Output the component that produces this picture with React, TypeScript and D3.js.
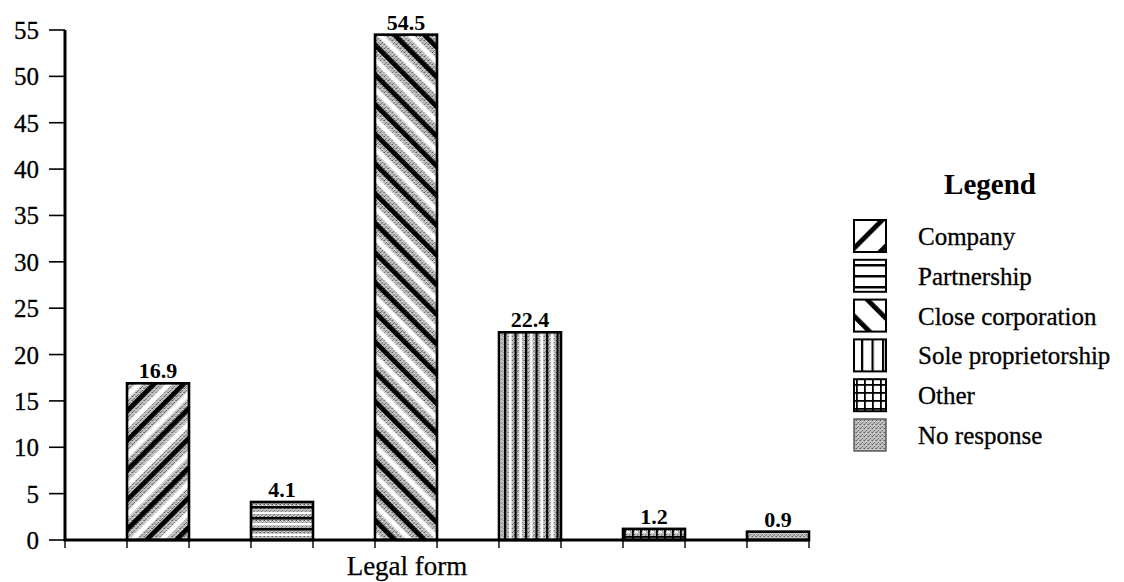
import React from "react";
import * as d3 from "d3";

// Share of respondents by legal form (%)
const categories = [
  "Company",
  "Partnership",
  "Close corporation",
  "Sole proprietorship",
  "Other",
  "No response",
];
const shares = [16.9, 4.1, 54.5, 22.4, 1.2, 0.9];
const yTicks = [0, 5, 10, 15, 20, 25, 30, 35, 40, 45, 50, 55];
const xAxisTitle = "Legal form";
const legendTitle = "Legend";

// Hatch style for each category
const hatches = ["fwd", "horiz", "back", "vert", "grid", "none"];

const W = 1124;
const H = 582;
const serif = "Liberation Serif, Times New Roman, serif";
const textStyle = { fontFamily: serif };

const x = d3.scaleBand<string>().domain(categories).range([65, 809]).padding(0);
const y = d3.scaleLinear().domain([0, 55]).range([540, 30]);

function InkPattern({ id, kind, withShine }: { id: string; kind: string; withShine: boolean }) {
  if (kind === "fwd" || kind === "back") {
    return (
      <pattern
        id={id}
        patternUnits="userSpaceOnUse"
        width={21}
        height={21}
        patternTransform={`rotate(${kind === "fwd" ? 45 : -45})`}
      >
        {withShine && <rect x={10.5} y={0} width={5} height={21} fill="#ffffff" />}
        <rect x={0} y={0} width={4.8} height={21} fill="#000" />
      </pattern>
    );
  }
  if (kind === "horiz") {
    return (
      <pattern id={id} patternUnits="userSpaceOnUse" width={20} height={11}>
        {withShine && <rect x={0} y={6} width={20} height={2} fill="#ffffff" />}
        <rect x={0} y={0} width={20} height={2.5} fill="#000" />
      </pattern>
    );
  }
  if (kind === "vert") {
    return (
      <pattern id={id} patternUnits="userSpaceOnUse" width={10.5} height={20}>
        {withShine && <rect x={5} y={0} width={2.5} height={20} fill="#ffffff" />}
        <rect x={0} y={0} width={2.2} height={20} fill="#000" />
      </pattern>
    );
  }
  if (kind === "grid") {
    return (
      <pattern id={id} patternUnits="userSpaceOnUse" width={8} height={8}>
        {withShine && <rect x={3} y={3} width={3} height={2} fill="#ffffff" />}
        <rect x={0} y={0} width={8} height={1.8} fill="#000" />
        <rect x={0} y={0} width={1.8} height={8} fill="#000" />
      </pattern>
    );
  }
  return null;
}

export default function App() {
  const half = x.bandwidth() / 2;
  // tick marks under the x axis at every half-band boundary
  const xTickPos: number[] = [];
  categories.forEach((c) => {
    xTickPos.push(x(c)!);
    xTickPos.push(x(c)! + half);
  });
  xTickPos.push(x.range()[1]);

  const legendX = 854;
  const legendTop = 220;
  const rowH = 39.8;
  const sw = 32;

  return (
    <svg
      width={W}
      height={H}
      style={{ position: "absolute", left: 0, top: 0, display: "block", background: "#fff" }}
    >
      <defs>
        <pattern id="stipple" patternUnits="userSpaceOnUse" width={4} height={4}>
          <rect width={4} height={4} fill="#bdbdbd" />
          <rect x={0} y={0} width={1} height={1} fill="#606060" />
          <rect x={2} y={2} width={1} height={1} fill="#6a6a6a" />
          <rect x={3} y={0} width={1} height={1} fill="#8e8e8e" />
          <rect x={1} y={3} width={1} height={1} fill="#808080" />
          <rect x={2} y={1} width={1} height={1} fill="#e0e0e0" />
        </pattern>
        {hatches.map((k, i) => (
          <InkPattern key={`b${i}`} id={`bar-ink-${i}`} kind={k} withShine={true} />
        ))}
        {hatches.map((k, i) => (
          <InkPattern key={`l${i}`} id={`leg-ink-${i}`} kind={k} withShine={false} />
        ))}
      </defs>

      {/* bars */}
      {categories.map((c, i) => {
        const bx = x(c)! + half;
        const by = y(shares[i]);
        const bh = y(0) - by;
        return (
          <g key={c}>
            <rect x={bx} y={by} width={half} height={bh} fill="url(#stipple)" />
            {hatches[i] !== "none" && (
              <rect x={bx} y={by} width={half} height={bh} fill={`url(#bar-ink-${i})`} />
            )}
            <rect
              x={bx}
              y={by}
              width={half}
              height={bh}
              fill="none"
              stroke="#000"
              strokeWidth={2.6}
            />
            <text
              x={bx + half / 2}
              y={by - 5}
              textAnchor="middle"
              style={textStyle}
              fontWeight="bold"
              fontSize={22}
              fill="#000"
            >
              {shares[i]}
            </text>
          </g>
        );
      })}

      {/* y axis */}
      <line x1={65} x2={65} y1={y(55)} y2={y(0)} stroke="#000" strokeWidth={3} />
      {yTicks.map((t) => (
        <g key={t}>
          <line x1={49} x2={65} y1={y(t)} y2={y(t)} stroke="#000" strokeWidth={1.6} />
          <text
            x={39}
            y={y(t)}
            dy="0.36em"
            textAnchor="end"
            style={textStyle}
            fontSize={25}
            fill="#000"
            stroke="#000"
            strokeWidth={0.3}
          >
            {t}
          </text>
        </g>
      ))}

      {/* x axis */}
      <line x1={63.5} x2={x.range()[1]} y1={y(0)} y2={y(0)} stroke="#000" strokeWidth={3} />
      {xTickPos.map((p, i) => (
        <line key={i} x1={p} x2={p} y1={y(0)} y2={y(0) + 8} stroke="#000" strokeWidth={1.4} />
      ))}
      <text
        x={407}
        y={575}
        textAnchor="middle"
        style={textStyle}
        fontSize={27}
        fill="#000"
        stroke="#000"
        strokeWidth={0.25}
      >
        {xAxisTitle}
      </text>

      {/* legend */}
      <text
        x={990}
        y={194}
        textAnchor="middle"
        style={textStyle}
        fontWeight="bold"
        fontSize={29}
        fill="#000"
      >
        {legendTitle}
      </text>
      {categories.map((c, i) => {
        const ry = legendTop + i * rowH;
        const plain = hatches[i] === "none";
        return (
          <g key={`leg-${c}`}>
            <rect x={legendX} y={ry} width={sw} height={sw} fill={plain ? "url(#stipple)" : "#fff"} />
            {!plain && (
              <rect x={legendX} y={ry} width={sw} height={sw} fill={`url(#leg-ink-${i})`} />
            )}
            <rect
              x={legendX}
              y={ry}
              width={sw}
              height={sw}
              fill="none"
              stroke={plain ? "#555" : "#000"}
              strokeWidth={plain ? 1.4 : 2}
            />
            <text
              x={918}
              y={ry + 25}
              style={textStyle}
              fontSize={25}
              fill="#000"
              stroke="#000"
              strokeWidth={0.3}
            >
              {c}
            </text>
          </g>
        );
      })}
    </svg>
  );
}
